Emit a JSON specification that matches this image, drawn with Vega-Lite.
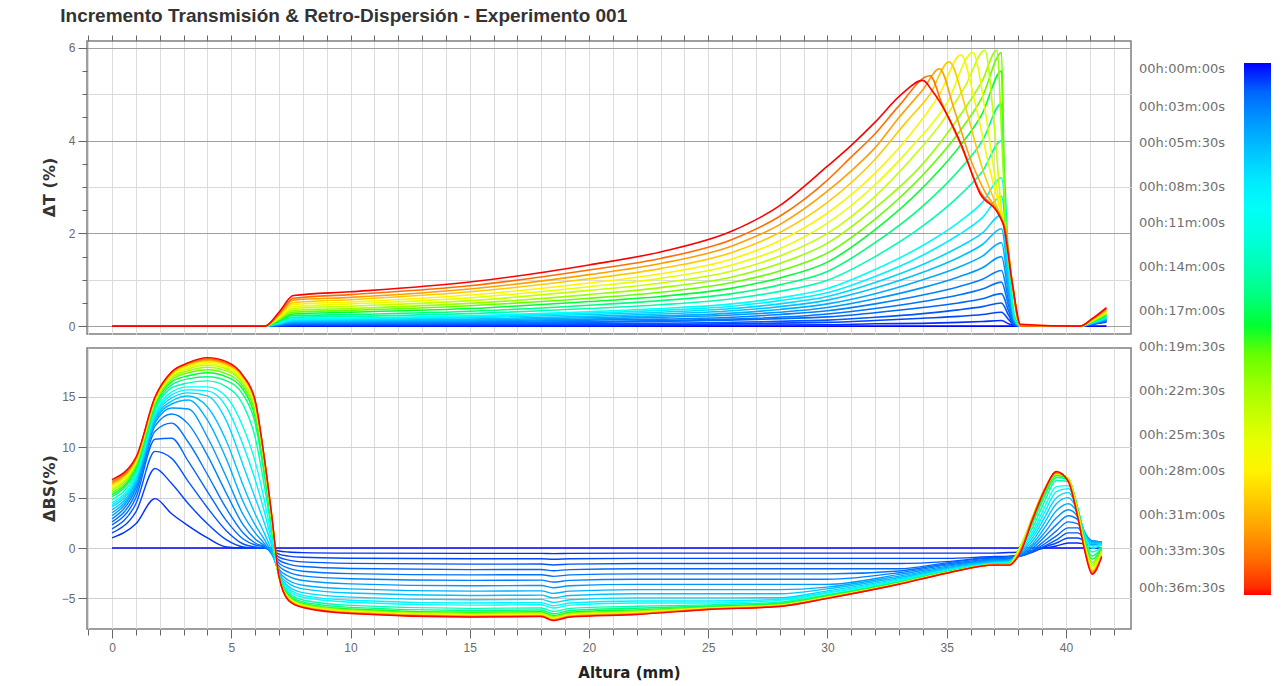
{
"$schema": "https://vega.github.io/schema/vega-lite/v6.json",
"background": "white",
"padding": {"left": 40, "top": 6, "right": 5, "bottom": 2},
"title": {"text": "Incremento Transmisión & Retro-Dispersión - Experimento 001", "anchor": "start", "frame": "bounds", "font": "Liberation Sans", "fontSize": 19, "fontWeight": "bold", "color": "#333333", "offset": 8, "dx": 20},
"config": {"view": {"stroke": "#7f7f7f", "strokeWidth": 1.5}, "axis": {"labelFont": "Liberation Sans", "labelColor": "#6a6a6a", "tickColor": "#666666", "domain": false}},
"spacing": 12,
"resolve": {"scale": {"color": "shared"}},
"datasets": {
"T": [
{"t":0,"x":0,"y":0},{"t":0,"x":41.7,"y":0},
{"t":0.5,"x":0,"y":0},{"t":0.5,"x":6.4,"y":0},{"t":0.5,"x":7.6,"y":0.01},{"t":0.5,"x":20,"y":0.01},{"t":0.5,"x":30,"y":0.03},{"t":0.5,"x":32,"y":0.05},{"t":0.5,"x":34,"y":0.06},{"t":0.5,"x":35.5,"y":0.08},{"t":0.5,"x":36.5,"y":0.1},{"t":0.5,"x":37.3,"y":0.12},{"t":0.5,"x":37.6,"y":0.05},{"t":0.5,"x":37.85,"y":0.01},{"t":0.5,"x":38.1,"y":0},{"t":0.5,"x":40.6,"y":0},{"t":0.5,"x":41.1,"y":0.04},{"t":0.5,"x":41.7,"y":0.09},
{"t":1,"x":0,"y":0},{"t":1,"x":6.4,"y":0},{"t":1,"x":7.6,"y":0.02},{"t":1,"x":20,"y":0.03},{"t":1,"x":30,"y":0.08},{"t":1,"x":32,"y":0.12},{"t":1,"x":34,"y":0.17},{"t":1,"x":35.5,"y":0.21},{"t":1,"x":36.5,"y":0.25},{"t":1,"x":37.3,"y":0.3},{"t":1,"x":37.6,"y":0.14},{"t":1,"x":37.85,"y":0.02},{"t":1,"x":38.1,"y":0},{"t":1,"x":40.6,"y":0},{"t":1,"x":41.1,"y":0.04},{"t":1,"x":41.7,"y":0.1},
{"t":1.5,"x":0,"y":0},{"t":1.5,"x":6.4,"y":0},{"t":1.5,"x":7.6,"y":0.03},{"t":1.5,"x":20,"y":0.05},{"t":1.5,"x":30,"y":0.13},{"t":1.5,"x":32,"y":0.19},{"t":1.5,"x":34,"y":0.27},{"t":1.5,"x":35.5,"y":0.35},{"t":1.5,"x":36.5,"y":0.42},{"t":1.5,"x":37.3,"y":0.5},{"t":1.5,"x":37.6,"y":0.23},{"t":1.5,"x":37.85,"y":0.03},{"t":1.5,"x":38.1,"y":0},{"t":1.5,"x":40.6,"y":0},{"t":1.5,"x":41.1,"y":0.04},{"t":1.5,"x":41.7,"y":0.11},
{"t":2,"x":0,"y":0},{"t":2,"x":6.4,"y":0},{"t":2,"x":7.6,"y":0.04},{"t":2,"x":20,"y":0.08},{"t":2,"x":30,"y":0.2},{"t":2,"x":32,"y":0.29},{"t":2,"x":34,"y":0.4},{"t":2,"x":35.5,"y":0.5},{"t":2,"x":36.5,"y":0.59},{"t":2,"x":37.3,"y":0.7},{"t":2,"x":37.6,"y":0.32},{"t":2,"x":37.85,"y":0.04},{"t":2,"x":38.1,"y":0},{"t":2,"x":40.6,"y":0},{"t":2,"x":41.1,"y":0.05},{"t":2,"x":41.7,"y":0.12},
{"t":2.5,"x":0,"y":0},{"t":2.5,"x":6.4,"y":0},{"t":2.5,"x":7,"y":0.02},{"t":2.5,"x":7.6,"y":0.05},{"t":2.5,"x":15,"y":0.07},{"t":2.5,"x":20,"y":0.1},{"t":2.5,"x":26,"y":0.15},{"t":2.5,"x":30,"y":0.26},{"t":2.5,"x":32,"y":0.38},{"t":2.5,"x":34,"y":0.53},{"t":2.5,"x":35.5,"y":0.67},{"t":2.5,"x":36.5,"y":0.8},{"t":2.5,"x":37.3,"y":0.95},{"t":2.5,"x":37.6,"y":0.43},{"t":2.5,"x":37.85,"y":0.06},{"t":2.5,"x":38.1,"y":0},{"t":2.5,"x":40.6,"y":0},{"t":2.5,"x":41.1,"y":0.05},{"t":2.5,"x":41.7,"y":0.12},
{"t":3,"x":0,"y":0},{"t":3,"x":6.4,"y":0},{"t":3,"x":7,"y":0.03},{"t":3,"x":7.6,"y":0.06},{"t":3,"x":10,"y":0.07},{"t":3,"x":15,"y":0.09},{"t":3,"x":20,"y":0.13},{"t":3,"x":23,"y":0.15},{"t":3,"x":26,"y":0.19},{"t":3,"x":28,"y":0.25},{"t":3,"x":30,"y":0.33},{"t":3,"x":32,"y":0.48},{"t":3,"x":34,"y":0.67},{"t":3,"x":35.5,"y":0.85},{"t":3,"x":36.5,"y":1.01},{"t":3,"x":37.3,"y":1.2},{"t":3,"x":37.6,"y":0.54},{"t":3,"x":37.85,"y":0.07},{"t":3,"x":38.1,"y":0},{"t":3,"x":40.6,"y":0},{"t":3,"x":41.1,"y":0.05},{"t":3,"x":41.7,"y":0.13},
{"t":4,"x":0,"y":0},{"t":4,"x":6.4,"y":0},{"t":4,"x":7,"y":0.04},{"t":4,"x":7.6,"y":0.08},{"t":4,"x":10,"y":0.09},{"t":4,"x":15,"y":0.11},{"t":4,"x":20,"y":0.15},{"t":4,"x":23,"y":0.19},{"t":4,"x":26,"y":0.24},{"t":4,"x":28,"y":0.3},{"t":4,"x":30,"y":0.4},{"t":4,"x":32,"y":0.59},{"t":4,"x":34,"y":0.83},{"t":4,"x":35.5,"y":1.06},{"t":4,"x":36.5,"y":1.26},{"t":4,"x":37.3,"y":1.5},{"t":4,"x":37.6,"y":0.68},{"t":4,"x":37.85,"y":0.09},{"t":4,"x":38.1,"y":0},{"t":4,"x":40.6,"y":0},{"t":4,"x":41.1,"y":0.06},{"t":4,"x":41.7,"y":0.14},
{"t":5,"x":0,"y":0},{"t":5,"x":6.4,"y":0},{"t":5,"x":7,"y":0.04},{"t":5,"x":7.6,"y":0.09},{"t":5,"x":10,"y":0.1},{"t":5,"x":15,"y":0.13},{"t":5,"x":20,"y":0.18},{"t":5,"x":23,"y":0.22},{"t":5,"x":26,"y":0.28},{"t":5,"x":28,"y":0.36},{"t":5,"x":30,"y":0.48},{"t":5,"x":32,"y":0.7},{"t":5,"x":34,"y":1.0},{"t":5,"x":35.5,"y":1.27},{"t":5,"x":36.5,"y":1.51},{"t":5,"x":37.3,"y":1.8},{"t":5,"x":37.6,"y":0.81},{"t":5,"x":37.85,"y":0.11},{"t":5,"x":38.1,"y":0},{"t":5,"x":40.6,"y":0},{"t":5,"x":41.1,"y":0.06},{"t":5,"x":41.7,"y":0.15},
{"t":6,"x":0,"y":0},{"t":6,"x":6.4,"y":0},{"t":6,"x":7,"y":0.05},{"t":6,"x":7.6,"y":0.11},{"t":6,"x":10,"y":0.12},{"t":6,"x":15,"y":0.15},{"t":6,"x":20,"y":0.21},{"t":6,"x":23,"y":0.26},{"t":6,"x":26,"y":0.33},{"t":6,"x":28,"y":0.42},{"t":6,"x":30,"y":0.56},{"t":6,"x":32,"y":0.82},{"t":6,"x":34,"y":1.16},{"t":6,"x":35.5,"y":1.48},{"t":6,"x":36.5,"y":1.76},{"t":6,"x":37.3,"y":2.1},{"t":6,"x":37.6,"y":0.95},{"t":6,"x":37.85,"y":0.13},{"t":6,"x":38.1,"y":0},{"t":6,"x":40.6,"y":0},{"t":6,"x":41.1,"y":0.06},{"t":6,"x":41.7,"y":0.16},
{"t":7,"x":0,"y":0},{"t":7,"x":6.4,"y":0},{"t":7,"x":7,"y":0.06},{"t":7,"x":7.6,"y":0.12},{"t":7,"x":10,"y":0.14},{"t":7,"x":15,"y":0.18},{"t":7,"x":20,"y":0.25},{"t":7,"x":23,"y":0.3},{"t":7,"x":26,"y":0.38},{"t":7,"x":28,"y":0.48},{"t":7,"x":30,"y":0.64},{"t":7,"x":32,"y":0.94},{"t":7,"x":34,"y":1.33},{"t":7,"x":35.5,"y":1.7},{"t":7,"x":36.5,"y":2.01},{"t":7,"x":37.3,"y":2.4},{"t":7,"x":37.6,"y":1.08},{"t":7,"x":37.85,"y":0.14},{"t":7,"x":38.1,"y":0},{"t":7,"x":40.6,"y":0},{"t":7,"x":41.1,"y":0.07},{"t":7,"x":41.7,"y":0.17},
{"t":8.5,"x":0,"y":0},{"t":8.5,"x":6.4,"y":0},{"t":8.5,"x":7,"y":0.06},{"t":8.5,"x":7.6,"y":0.14},{"t":8.5,"x":10,"y":0.16},{"t":8.5,"x":15,"y":0.2},{"t":8.5,"x":20,"y":0.28},{"t":8.5,"x":23,"y":0.34},{"t":8.5,"x":26,"y":0.43},{"t":8.5,"x":28,"y":0.55},{"t":8.5,"x":30,"y":0.72},{"t":8.5,"x":32,"y":1.07},{"t":8.5,"x":34,"y":1.53},{"t":8.5,"x":35.5,"y":1.97},{"t":8.5,"x":36.5,"y":2.34},{"t":8.5,"x":37.3,"y":2.8},{"t":8.5,"x":37.6,"y":1.26},{"t":8.5,"x":37.85,"y":0.17},{"t":8.5,"x":38.1,"y":0},{"t":8.5,"x":40.6,"y":0},{"t":8.5,"x":41.1,"y":0.07},{"t":8.5,"x":41.7,"y":0.18},
{"t":10,"x":0,"y":0},{"t":10,"x":6.4,"y":0},{"t":10,"x":7,"y":0.07},{"t":10,"x":7.6,"y":0.16},{"t":10,"x":10,"y":0.17},{"t":10,"x":15,"y":0.22},{"t":10,"x":20,"y":0.31},{"t":10,"x":23,"y":0.38},{"t":10,"x":26,"y":0.48},{"t":10,"x":28,"y":0.61},{"t":10,"x":30,"y":0.81},{"t":10,"x":32,"y":1.22},{"t":10,"x":34,"y":1.74},{"t":10,"x":35.5,"y":2.24},{"t":10,"x":36.5,"y":2.67},{"t":10,"x":37.3,"y":3.2},{"t":10,"x":37.6,"y":1.4},{"t":10,"x":37.85,"y":0.19},{"t":10,"x":38.1,"y":0},{"t":10,"x":40.6,"y":0},{"t":10,"x":41.1,"y":0.08},{"t":10,"x":41.7,"y":0.19},
{"t":14,"x":0,"y":0},{"t":14,"x":6.4,"y":0},{"t":14,"x":7,"y":0.09},{"t":14,"x":7.6,"y":0.19},{"t":14,"x":10,"y":0.21},{"t":14,"x":15,"y":0.27},{"t":14,"x":20,"y":0.38},{"t":14,"x":23,"y":0.46},{"t":14,"x":26,"y":0.59},{"t":14,"x":28,"y":0.75},{"t":14,"x":30,"y":0.99},{"t":14,"x":32,"y":1.5},{"t":14,"x":34,"y":2.16},{"t":14,"x":35.5,"y":2.8},{"t":14,"x":36.5,"y":3.34},{"t":14,"x":37.3,"y":4.0},{"t":14,"x":37.6,"y":1.5},{"t":14,"x":37.85,"y":0.2},{"t":14,"x":38.1,"y":0},{"t":14,"x":40.6,"y":0},{"t":14,"x":41.1,"y":0.08},{"t":14,"x":41.7,"y":0.2},
{"t":16,"x":0,"y":0},{"t":16,"x":6.4,"y":0},{"t":16,"x":7,"y":0.1},{"t":16,"x":7.6,"y":0.23},{"t":16,"x":10,"y":0.25},{"t":16,"x":15,"y":0.32},{"t":16,"x":20,"y":0.45},{"t":16,"x":23,"y":0.55},{"t":16,"x":26,"y":0.7},{"t":16,"x":28,"y":0.89},{"t":16,"x":30,"y":1.18},{"t":16,"x":32,"y":1.8},{"t":16,"x":34,"y":2.59},{"t":16,"x":35.5,"y":3.35},{"t":16,"x":36.5,"y":4.0},{"t":16,"x":37.3,"y":4.8},{"t":16,"x":37.45,"y":2.3},{"t":16,"x":37.75,"y":0.93},{"t":16,"x":38.1,"y":0},{"t":16,"x":40.6,"y":0},{"t":16,"x":41.1,"y":0.09},{"t":16,"x":41.7,"y":0.22},
{"t":18,"x":0,"y":0},{"t":18,"x":6.4,"y":0},{"t":18,"x":7,"y":0.12},{"t":18,"x":7.6,"y":0.26},{"t":18,"x":10,"y":0.3},{"t":18,"x":15,"y":0.38},{"t":18,"x":20,"y":0.53},{"t":18,"x":23,"y":0.64},{"t":18,"x":26,"y":0.82},{"t":18,"x":28,"y":1.04},{"t":18,"x":30,"y":1.38},{"t":18,"x":32,"y":2.08},{"t":18,"x":34,"y":2.99},{"t":18,"x":35.5,"y":3.85},{"t":18,"x":36.5,"y":4.59},{"t":18,"x":37.3,"y":5.5},{"t":18,"x":37.45,"y":2.3},{"t":18,"x":37.75,"y":0.93},{"t":18,"x":38.1,"y":0},{"t":18,"x":40.6,"y":0},{"t":18,"x":41.1,"y":0.1},{"t":18,"x":41.7,"y":0.24},
{"t":20,"x":0,"y":0},{"t":20,"x":6.4,"y":0},{"t":20,"x":7,"y":0.14},{"t":20,"x":7.6,"y":0.3},{"t":20,"x":10,"y":0.34},{"t":20,"x":15,"y":0.44},{"t":20,"x":20,"y":0.6},{"t":20,"x":23,"y":0.73},{"t":20,"x":26,"y":0.94},{"t":20,"x":28,"y":1.19},{"t":20,"x":30,"y":1.58},{"t":20,"x":32,"y":2.31},{"t":20,"x":34,"y":3.26},{"t":20,"x":35.5,"y":4.17},{"t":20,"x":36.5,"y":4.95},{"t":20,"x":37.3,"y":5.9},{"t":20,"x":37.45,"y":2.3},{"t":20,"x":37.75,"y":0.93},{"t":20,"x":38.1,"y":0},{"t":20,"x":40.6,"y":0},{"t":20,"x":41.1,"y":0.1},{"t":20,"x":41.7,"y":0.26},
{"t":22,"x":0,"y":0},{"t":22,"x":6.4,"y":0},{"t":22,"x":7,"y":0.16},{"t":22,"x":7.6,"y":0.34},{"t":22,"x":10,"y":0.38},{"t":22,"x":15,"y":0.49},{"t":22,"x":20,"y":0.68},{"t":22,"x":23,"y":0.83},{"t":22,"x":26,"y":1.06},{"t":22,"x":28,"y":1.35},{"t":22,"x":30,"y":1.79},{"t":22,"x":32,"y":2.55},{"t":22,"x":34,"y":3.5},{"t":22,"x":35.5,"y":4.5},{"t":22,"x":36.5,"y":5.3},{"t":22,"x":37.1,"y":5.95},{"t":22,"x":37.35,"y":3.6},{"t":22,"x":37.5,"y":2.0},{"t":22,"x":37.75,"y":0.93},{"t":22,"x":38.1,"y":0},{"t":22,"x":40.6,"y":0},{"t":22,"x":41.1,"y":0.11},{"t":22,"x":41.7,"y":0.27},
{"t":24,"x":0,"y":0},{"t":24,"x":6.4,"y":0},{"t":24,"x":7,"y":0.17},{"t":24,"x":7.6,"y":0.38},{"t":24,"x":10,"y":0.43},{"t":24,"x":15,"y":0.55},{"t":24,"x":20,"y":0.77},{"t":24,"x":23,"y":0.93},{"t":24,"x":26,"y":1.19},{"t":24,"x":28,"y":1.51},{"t":24,"x":30,"y":2.0},{"t":24,"x":32,"y":2.8},{"t":24,"x":33.5,"y":3.6},{"t":24,"x":34.8,"y":4.4},{"t":24,"x":35.8,"y":5.2},{"t":24,"x":36.6,"y":5.95},{"t":24,"x":37,"y":4.3},{"t":24,"x":37.3,"y":2.5},{"t":24,"x":37.45,"y":2.1},{"t":24,"x":37.75,"y":0.93},{"t":24,"x":38.1,"y":0},{"t":24,"x":40.6,"y":0},{"t":24,"x":41.1,"y":0.12},{"t":24,"x":41.7,"y":0.29},
{"t":26,"x":0,"y":0},{"t":26,"x":6.4,"y":0},{"t":26,"x":7,"y":0.19},{"t":26,"x":7.6,"y":0.42},{"t":26,"x":10,"y":0.48},{"t":26,"x":15,"y":0.61},{"t":26,"x":20,"y":0.85},{"t":26,"x":23,"y":1.03},{"t":26,"x":26,"y":1.32},{"t":26,"x":28,"y":1.67},{"t":26,"x":30,"y":2.22},{"t":26,"x":32,"y":3.05},{"t":26,"x":33.5,"y":3.85},{"t":26,"x":35,"y":4.8},{"t":26,"x":36.1,"y":5.9},{"t":26,"x":36.6,"y":4.7},{"t":26,"x":37,"y":3.3},{"t":26,"x":37.3,"y":2.4},{"t":26,"x":37.45,"y":2.1},{"t":26,"x":37.75,"y":0.93},{"t":26,"x":38.1,"y":0},{"t":26,"x":40.6,"y":0},{"t":26,"x":41.1,"y":0.12},{"t":26,"x":41.7,"y":0.31},
{"t":28,"x":0,"y":0},{"t":28,"x":6.4,"y":0},{"t":28,"x":7,"y":0.21},{"t":28,"x":7.6,"y":0.47},{"t":28,"x":10,"y":0.52},{"t":28,"x":15,"y":0.67},{"t":28,"x":20,"y":0.93},{"t":28,"x":23,"y":1.13},{"t":28,"x":26,"y":1.45},{"t":28,"x":28,"y":1.84},{"t":28,"x":30,"y":2.44},{"t":28,"x":32,"y":3.3},{"t":28,"x":33.5,"y":4.15},{"t":28,"x":34.7,"y":5.0},{"t":28,"x":35.6,"y":5.85},{"t":28,"x":36.2,"y":4.8},{"t":28,"x":36.8,"y":3.4},{"t":28,"x":37.3,"y":2.4},{"t":28,"x":37.45,"y":2.1},{"t":28,"x":37.75,"y":0.93},{"t":28,"x":38.1,"y":0},{"t":28,"x":40.6,"y":0},{"t":28,"x":41.1,"y":0.13},{"t":28,"x":41.7,"y":0.33},
{"t":30,"x":0,"y":0},{"t":30,"x":6.4,"y":0},{"t":30,"x":7,"y":0.23},{"t":30,"x":7.6,"y":0.51},{"t":30,"x":10,"y":0.57},{"t":30,"x":15,"y":0.74},{"t":30,"x":20,"y":1.02},{"t":30,"x":23,"y":1.24},{"t":30,"x":26,"y":1.59},{"t":30,"x":28,"y":2.02},{"t":30,"x":30,"y":2.67},{"t":30,"x":32,"y":3.6},{"t":30,"x":33.3,"y":4.4},{"t":30,"x":34.3,"y":5.0},{"t":30,"x":35.1,"y":5.7},{"t":30,"x":35.8,"y":4.7},{"t":30,"x":36.5,"y":3.4},{"t":30,"x":37.2,"y":2.45},{"t":30,"x":37.45,"y":2.1},{"t":30,"x":37.75,"y":0.93},{"t":30,"x":38.1,"y":0},{"t":30,"x":40.6,"y":0},{"t":30,"x":41.1,"y":0.14},{"t":30,"x":41.7,"y":0.34},
{"t":32,"x":0,"y":0},{"t":32,"x":6.4,"y":0},{"t":32,"x":7,"y":0.25},{"t":32,"x":7.6,"y":0.56},{"t":32,"x":10,"y":0.62},{"t":32,"x":15,"y":0.8},{"t":32,"x":20,"y":1.11},{"t":32,"x":23,"y":1.35},{"t":32,"x":26,"y":1.73},{"t":32,"x":28,"y":2.19},{"t":32,"x":30,"y":2.91},{"t":32,"x":31,"y":3.35},{"t":32,"x":32,"y":3.85},{"t":32,"x":33,"y":4.5},{"t":32,"x":34,"y":5.1},{"t":32,"x":34.7,"y":5.55},{"t":32,"x":35.3,"y":4.7},{"t":32,"x":36,"y":3.6},{"t":32,"x":36.6,"y":2.9},{"t":32,"x":37.2,"y":2.42},{"t":32,"x":37.45,"y":2.1},{"t":32,"x":37.75,"y":0.93},{"t":32,"x":38.1,"y":0},{"t":32,"x":40.6,"y":0},{"t":32,"x":41.1,"y":0.14},{"t":32,"x":41.7,"y":0.36},
{"t":34,"x":0,"y":0},{"t":34,"x":6.4,"y":0},{"t":34,"x":7,"y":0.27},{"t":34,"x":7.6,"y":0.6},{"t":34,"x":10,"y":0.68},{"t":34,"x":15,"y":0.87},{"t":34,"x":20,"y":1.21},{"t":34,"x":23,"y":1.46},{"t":34,"x":26,"y":1.87},{"t":34,"x":28,"y":2.37},{"t":34,"x":30,"y":3.15},{"t":34,"x":31,"y":3.65},{"t":34,"x":32,"y":4.15},{"t":34,"x":33,"y":4.75},{"t":34,"x":34.3,"y":5.4},{"t":34,"x":34.8,"y":4.8},{"t":34,"x":35.6,"y":3.9},{"t":34,"x":36.4,"y":2.9},{"t":34,"x":37.2,"y":2.4},{"t":34,"x":37.45,"y":2.1},{"t":34,"x":37.75,"y":0.93},{"t":34,"x":38.1,"y":0},{"t":34,"x":40.6,"y":0},{"t":34,"x":41.1,"y":0.15},{"t":34,"x":41.7,"y":0.38},
{"t":36.5,"x":0,"y":0},{"t":36.5,"x":6.4,"y":0},{"t":36.5,"x":7,"y":0.3},{"t":36.5,"x":7.6,"y":0.66},{"t":36.5,"x":10,"y":0.74},{"t":36.5,"x":15,"y":0.95},{"t":36.5,"x":20,"y":1.32},{"t":36.5,"x":23,"y":1.6},{"t":36.5,"x":26,"y":2.05},{"t":36.5,"x":28,"y":2.6},{"t":36.5,"x":30,"y":3.45},{"t":36.5,"x":31,"y":3.9},{"t":36.5,"x":32,"y":4.4},{"t":36.5,"x":33.1,"y":5.0},{"t":36.5,"x":34,"y":5.3},{"t":36.5,"x":34.4,"y":5.07},{"t":36.5,"x":35.6,"y":3.93},{"t":36.5,"x":36.4,"y":2.86},{"t":36.5,"x":37.2,"y":2.39},{"t":36.5,"x":37.4,"y":2.14},{"t":36.5,"x":37.75,"y":0.93},{"t":36.5,"x":38.1,"y":0.04},{"t":36.5,"x":40.6,"y":0},{"t":36.5,"x":41.1,"y":0.16},{"t":36.5,"x":41.7,"y":0.4}
],
"B": [
{"t":0,"x":0,"y":0},{"t":0,"x":41.5,"y":0},
{"t":0.5,"x":0,"y":1.0},{"t":0.5,"x":1,"y":2.4},{"t":0.5,"x":1.8,"y":4.9},{"t":0.5,"x":2.5,"y":3.4},{"t":0.5,"x":3.2,"y":2.2},{"t":0.5,"x":4,"y":1.0},{"t":0.5,"x":4.8,"y":0.1},{"t":0.5,"x":5.5,"y":0},{"t":0.5,"x":6,"y":0},{"t":0.5,"x":6.4,"y":0},{"t":0.5,"x":6.7,"y":-0.1},{"t":0.5,"x":7,"y":-0.3},{"t":0.5,"x":7.4,"y":-0.4},{"t":0.5,"x":8,"y":-0.46},{"t":0.5,"x":10,"y":-0.51},{"t":0.5,"x":15,"y":-0.53},{"t":0.5,"x":18,"y":-0.53},{"t":0.5,"x":18.5,"y":-0.56},{"t":0.5,"x":19.2,"y":-0.53},{"t":0.5,"x":22,"y":-0.51},{"t":0.5,"x":25,"y":-0.51},{"t":0.5,"x":28,"y":-0.51},{"t":0.5,"x":30,"y":-0.51},{"t":0.5,"x":33,"y":-0.51},{"t":0.5,"x":35,"y":-0.51},{"t":0.5,"x":37,"y":-0.51},{"t":0.5,"x":37.6,"y":-0.45},{"t":0.5,"x":38.1,"y":-0.4},{"t":0.5,"x":38.6,"y":-0.25},{"t":0.5,"x":39.1,"y":0},{"t":0.5,"x":39.6,"y":0.2},{"t":0.5,"x":40.1,"y":0.5},{"t":0.5,"x":40.5,"y":0.5},{"t":0.5,"x":40.8,"y":0.4},{"t":0.5,"x":41.1,"y":0.3},{"t":0.5,"x":41.5,"y":0.3},
{"t":1,"x":0,"y":1.5},{"t":1,"x":1,"y":3.6},{"t":1,"x":1.8,"y":7.9},{"t":1,"x":2.5,"y":6.4},{"t":1,"x":3.2,"y":4.4},{"t":1,"x":4,"y":2.4},{"t":1,"x":4.8,"y":0.8},{"t":1,"x":5.5,"y":0.1},{"t":1,"x":6,"y":0},{"t":1,"x":6.4,"y":0},{"t":1,"x":6.7,"y":-0.2},{"t":1,"x":7,"y":-0.6},{"t":1,"x":7.4,"y":-0.8},{"t":1,"x":8,"y":-0.92},{"t":1,"x":10,"y":-1.01},{"t":1,"x":15,"y":-1.07},{"t":1,"x":18,"y":-1.06},{"t":1,"x":18.5,"y":-1.12},{"t":1,"x":19.2,"y":-1.07},{"t":1,"x":22,"y":-1.03},{"t":1,"x":25,"y":-1.03},{"t":1,"x":28,"y":-1.03},{"t":1,"x":30,"y":-1.03},{"t":1,"x":33,"y":-1.03},{"t":1,"x":35,"y":-1.03},{"t":1,"x":37,"y":-0.84},{"t":1,"x":37.6,"y":-0.8},{"t":1,"x":38.1,"y":-0.7},{"t":1,"x":38.6,"y":-0.4},{"t":1,"x":39.1,"y":0.1},{"t":1,"x":39.6,"y":0.5},{"t":1,"x":40.1,"y":1.0},{"t":1,"x":40.5,"y":1.0},{"t":1,"x":40.8,"y":0.7},{"t":1,"x":41.1,"y":0.4},{"t":1,"x":41.5,"y":0.4},
{"t":1.5,"x":0,"y":1.9},{"t":1.5,"x":1,"y":4.4},{"t":1.5,"x":1.8,"y":9.6},{"t":1.5,"x":2.5,"y":8.9},{"t":1.5,"x":3.2,"y":6.6},{"t":1.5,"x":4,"y":4.0},{"t":1.5,"x":4.8,"y":1.7},{"t":1.5,"x":5.5,"y":0.4},{"t":1.5,"x":6,"y":0.1},{"t":1.5,"x":6.4,"y":0},{"t":1.5,"x":6.7,"y":-0.3},{"t":1.5,"x":7,"y":-0.9},{"t":1.5,"x":7.4,"y":-1.2},{"t":1.5,"x":8,"y":-1.38},{"t":1.5,"x":10,"y":-1.52},{"t":1.5,"x":15,"y":-1.6},{"t":1.5,"x":18,"y":-1.59},{"t":1.5,"x":18.5,"y":-1.68},{"t":1.5,"x":19.2,"y":-1.6},{"t":1.5,"x":22,"y":-1.54},{"t":1.5,"x":25,"y":-1.54},{"t":1.5,"x":28,"y":-1.54},{"t":1.5,"x":30,"y":-1.54},{"t":1.5,"x":33,"y":-1.54},{"t":1.5,"x":35,"y":-1.35},{"t":1.5,"x":37,"y":-0.92},{"t":1.5,"x":37.6,"y":-0.9},{"t":1.5,"x":38.1,"y":-0.8},{"t":1.5,"x":38.6,"y":-0.4},{"t":1.5,"x":39.1,"y":0.2},{"t":1.5,"x":39.6,"y":0.8},{"t":1.5,"x":40.1,"y":1.5},{"t":1.5,"x":40.5,"y":1.5},{"t":1.5,"x":40.8,"y":0.9},{"t":1.5,"x":41.1,"y":0.5},{"t":1.5,"x":41.5,"y":0.5},
{"t":2,"x":0,"y":2.3},{"t":2,"x":1,"y":5.0},{"t":2,"x":1.8,"y":10.8},{"t":2,"x":2.5,"y":10.9},{"t":2,"x":3.2,"y":8.6},{"t":2,"x":4,"y":5.6},{"t":2,"x":4.8,"y":2.7},{"t":2,"x":5.5,"y":0.9},{"t":2,"x":6,"y":0.3},{"t":2,"x":6.4,"y":0.1},{"t":2,"x":6.7,"y":-0.4},{"t":2,"x":7,"y":-1.2},{"t":2,"x":7.4,"y":-1.6},{"t":2,"x":8,"y":-1.84},{"t":2,"x":10,"y":-2.03},{"t":2,"x":15,"y":-2.14},{"t":2,"x":18,"y":-2.13},{"t":2,"x":18.5,"y":-2.25},{"t":2,"x":19.2,"y":-2.14},{"t":2,"x":22,"y":-2.06},{"t":2,"x":25,"y":-2.06},{"t":2,"x":28,"y":-2.06},{"t":2,"x":30,"y":-2.06},{"t":2,"x":33,"y":-2.06},{"t":2,"x":35,"y":-1.47},{"t":2,"x":37,"y":-1.0},{"t":2,"x":37.6,"y":-1.0},{"t":2,"x":38.1,"y":-0.8},{"t":2,"x":38.6,"y":-0.3},{"t":2,"x":39.1,"y":0.4},{"t":2,"x":39.6,"y":1.2},{"t":2,"x":40.1,"y":2.0},{"t":2,"x":40.5,"y":2.0},{"t":2,"x":40.8,"y":1.1},{"t":2,"x":41.1,"y":0.6},{"t":2,"x":41.5,"y":0.5},
{"t":2.5,"x":0,"y":2.6},{"t":2.5,"x":1,"y":5.5},{"t":2.5,"x":1.8,"y":11.6},{"t":2.5,"x":2.5,"y":12.4},{"t":2.5,"x":3.2,"y":10.5},{"t":2.5,"x":4,"y":7.3},{"t":2.5,"x":4.8,"y":3.9},{"t":2.5,"x":5.5,"y":1.5},{"t":2.5,"x":6,"y":0.5},{"t":2.5,"x":6.4,"y":0.1},{"t":2.5,"x":6.7,"y":-0.5},{"t":2.5,"x":7,"y":-1.5},{"t":2.5,"x":7.4,"y":-2.0},{"t":2.5,"x":8,"y":-2.3},{"t":2.5,"x":10,"y":-2.54},{"t":2.5,"x":15,"y":-2.67},{"t":2.5,"x":18,"y":-2.65},{"t":2.5,"x":18.5,"y":-2.81},{"t":2.5,"x":19.2,"y":-2.67},{"t":2.5,"x":22,"y":-2.57},{"t":2.5,"x":25,"y":-2.57},{"t":2.5,"x":28,"y":-2.57},{"t":2.5,"x":30,"y":-2.57},{"t":2.5,"x":33,"y":-2.28},{"t":2.5,"x":35,"y":-1.59},{"t":2.5,"x":37,"y":-1.08},{"t":2.5,"x":37.6,"y":-1.05},{"t":2.5,"x":38.1,"y":-0.7},{"t":2.5,"x":38.6,"y":-0.2},{"t":2.5,"x":39.1,"y":0.7},{"t":2.5,"x":39.6,"y":1.7},{"t":2.5,"x":40.1,"y":2.6},{"t":2.5,"x":40.5,"y":2.4},{"t":2.5,"x":40.8,"y":1.3},{"t":2.5,"x":41.1,"y":0.7},{"t":2.5,"x":41.5,"y":0.6},
{"t":3,"x":0,"y":2.9},{"t":3,"x":1,"y":5.9},{"t":3,"x":1.8,"y":12.1},{"t":3,"x":2.5,"y":13.3},{"t":3,"x":3.2,"y":12.3},{"t":3,"x":4,"y":9.2},{"t":3,"x":4.8,"y":5.4},{"t":3,"x":5.5,"y":2.3},{"t":3,"x":6,"y":0.9},{"t":3,"x":6.4,"y":0.2},{"t":3,"x":6.7,"y":-0.6},{"t":3,"x":7,"y":-1.8},{"t":3,"x":7.4,"y":-2.4},{"t":3,"x":8,"y":-2.77},{"t":3,"x":10,"y":-3.05},{"t":3,"x":15,"y":-3.21},{"t":3,"x":18,"y":-3.19},{"t":3,"x":18.5,"y":-3.38},{"t":3,"x":19.2,"y":-3.21},{"t":3,"x":22,"y":-3.1},{"t":3,"x":25,"y":-3.1},{"t":3,"x":28,"y":-3.1},{"t":3,"x":30,"y":-3.1},{"t":3,"x":33,"y":-2.45},{"t":3,"x":35,"y":-1.7},{"t":3,"x":37,"y":-1.16},{"t":3,"x":37.6,"y":-1.1},{"t":3,"x":38.1,"y":-0.6},{"t":3,"x":38.6,"y":0},{"t":3,"x":39.1,"y":1.1},{"t":3,"x":39.6,"y":2.3},{"t":3,"x":40.1,"y":3.2},{"t":3,"x":40.5,"y":2.8},{"t":3,"x":40.8,"y":1.4},{"t":3,"x":41.1,"y":0.7},{"t":3,"x":41.5,"y":0.6},
{"t":4,"x":0,"y":3.2},{"t":4,"x":1,"y":6.2},{"t":4,"x":1.8,"y":12.4},{"t":4,"x":2.5,"y":13.9},{"t":4,"x":3.2,"y":13.8},{"t":4,"x":4,"y":11.0},{"t":4,"x":4.8,"y":7.0},{"t":4,"x":5.5,"y":3.3},{"t":4,"x":6,"y":1.5},{"t":4,"x":6.4,"y":0.4},{"t":4,"x":6.7,"y":-0.6},{"t":4,"x":7,"y":-2.1},{"t":4,"x":7.4,"y":-2.8},{"t":4,"x":8,"y":-3.23},{"t":4,"x":10,"y":-3.56},{"t":4,"x":15,"y":-3.75},{"t":4,"x":18,"y":-3.72},{"t":4,"x":18.5,"y":-3.94},{"t":4,"x":19.2,"y":-3.75},{"t":4,"x":22,"y":-3.61},{"t":4,"x":25,"y":-3.61},{"t":4,"x":28,"y":-3.61},{"t":4,"x":30,"y":-3.61},{"t":4,"x":33,"y":-2.62},{"t":4,"x":35,"y":-1.82},{"t":4,"x":37,"y":-1.24},{"t":4,"x":37.6,"y":-1.2},{"t":4,"x":38.1,"y":-0.55},{"t":4,"x":38.6,"y":0.2},{"t":4,"x":39.1,"y":1.5},{"t":4,"x":39.6,"y":3.0},{"t":4,"x":40.1,"y":3.8},{"t":4,"x":40.5,"y":3.1},{"t":4,"x":40.8,"y":1.5},{"t":4,"x":41.1,"y":0.7},{"t":4,"x":41.5,"y":0.6},
{"t":5,"x":0,"y":3.5},{"t":5,"x":1,"y":6.4},{"t":5,"x":1.8,"y":12.6},{"t":5,"x":2.5,"y":14.3},{"t":5,"x":3.2,"y":14.7},{"t":5,"x":4,"y":12.7},{"t":5,"x":4.8,"y":8.8},{"t":5,"x":5.5,"y":4.6},{"t":5,"x":6,"y":2.3},{"t":5,"x":6.4,"y":0.8},{"t":5,"x":6.7,"y":-0.5},{"t":5,"x":7,"y":-2.3},{"t":5,"x":7.4,"y":-3.2},{"t":5,"x":8,"y":-3.69},{"t":5,"x":10,"y":-4.06},{"t":5,"x":15,"y":-4.28},{"t":5,"x":18,"y":-4.25},{"t":5,"x":18.5,"y":-4.5},{"t":5,"x":19.2,"y":-4.28},{"t":5,"x":22,"y":-4.13},{"t":5,"x":25,"y":-4.13},{"t":5,"x":28,"y":-4.13},{"t":5,"x":30,"y":-3.88},{"t":5,"x":33,"y":-2.79},{"t":5,"x":35,"y":-1.94},{"t":5,"x":37,"y":-1.32},{"t":5,"x":37.6,"y":-1.25},{"t":5,"x":38.1,"y":-0.5},{"t":5,"x":38.6,"y":0.4},{"t":5,"x":39.1,"y":2.0},{"t":5,"x":39.6,"y":3.7},{"t":5,"x":40.1,"y":4.4},{"t":5,"x":40.5,"y":3.4},{"t":5,"x":40.8,"y":1.5},{"t":5,"x":41.1,"y":0.6},{"t":5,"x":41.5,"y":0.6},
{"t":6,"x":0,"y":3.8},{"t":6,"x":1,"y":6.6},{"t":6,"x":1.8,"y":12.8},{"t":6,"x":2.5,"y":14.6},{"t":6,"x":3.2,"y":15.1},{"t":6,"x":4,"y":14.0},{"t":6,"x":4.8,"y":10.6},{"t":6,"x":5.5,"y":6.2},{"t":6,"x":6,"y":3.4},{"t":6,"x":6.4,"y":1.4},{"t":6,"x":6.7,"y":-0.3},{"t":6,"x":7,"y":-2.5},{"t":6,"x":7.4,"y":-3.5},{"t":6,"x":8,"y":-4.06},{"t":6,"x":10,"y":-4.47},{"t":6,"x":15,"y":-4.71},{"t":6,"x":18,"y":-4.68},{"t":6,"x":18.5,"y":-4.95},{"t":6,"x":19.2,"y":-4.71},{"t":6,"x":22,"y":-4.54},{"t":6,"x":25,"y":-4.54},{"t":6,"x":28,"y":-4.54},{"t":6,"x":30,"y":-4.06},{"t":6,"x":33,"y":-2.93},{"t":6,"x":35,"y":-2.03},{"t":6,"x":37,"y":-1.38},{"t":6,"x":37.6,"y":-1.3},{"t":6,"x":38.1,"y":-0.4},{"t":6,"x":38.6,"y":0.7},{"t":6,"x":39.1,"y":2.5},{"t":6,"x":39.6,"y":4.4},{"t":6,"x":40.1,"y":5.0},{"t":6,"x":40.5,"y":3.6},{"t":6,"x":40.8,"y":1.4},{"t":6,"x":41.1,"y":0.5},{"t":6,"x":41.5,"y":0.5},
{"t":7,"x":0,"y":4.1},{"t":7,"x":1,"y":6.8},{"t":7,"x":1.8,"y":13.0},{"t":7,"x":2.5,"y":14.9},{"t":7,"x":3.2,"y":15.4},{"t":7,"x":4,"y":15.1},{"t":7,"x":4.8,"y":12.6},{"t":7,"x":5.5,"y":8.2},{"t":7,"x":6,"y":5.0},{"t":7,"x":6.4,"y":2.4},{"t":7,"x":6.7,"y":0.2},{"t":7,"x":7,"y":-2.6},{"t":7,"x":7.4,"y":-3.8},{"t":7,"x":8,"y":-4.43},{"t":7,"x":10,"y":-4.88},{"t":7,"x":15,"y":-5.14},{"t":7,"x":18,"y":-5.1},{"t":7,"x":18.5,"y":-5.4},{"t":7,"x":19.2,"y":-5.14},{"t":7,"x":22,"y":-4.95},{"t":7,"x":25,"y":-4.95},{"t":7,"x":28,"y":-4.93},{"t":7,"x":30,"y":-4.25},{"t":7,"x":33,"y":-3.06},{"t":7,"x":35,"y":-2.13},{"t":7,"x":37,"y":-1.45},{"t":7,"x":37.6,"y":-1.35},{"t":7,"x":38.1,"y":-0.3},{"t":7,"x":38.6,"y":1.0},{"t":7,"x":39.1,"y":3.0},{"t":7,"x":39.6,"y":5.0},{"t":7,"x":40.1,"y":5.5},{"t":7,"x":40.5,"y":3.7},{"t":7,"x":40.8,"y":1.3},{"t":7,"x":41.1,"y":0.4},{"t":7,"x":41.5,"y":0.5},
{"t":8.5,"x":0,"y":4.3},{"t":8.5,"x":1,"y":7.0},{"t":8.5,"x":1.8,"y":13.2},{"t":8.5,"x":2.5,"y":15.2},{"t":8.5,"x":3.2,"y":15.7},{"t":8.5,"x":4,"y":15.6},{"t":8.5,"x":4.8,"y":14.0},{"t":8.5,"x":5.5,"y":10.2},{"t":8.5,"x":6,"y":6.8},{"t":8.5,"x":6.4,"y":3.5},{"t":8.5,"x":6.7,"y":0.6},{"t":8.5,"x":7,"y":-2.7},{"t":8.5,"x":7.4,"y":-4.0},{"t":8.5,"x":8,"y":-4.7},{"t":8.5,"x":10,"y":-5.18},{"t":8.5,"x":15,"y":-5.46},{"t":8.5,"x":18,"y":-5.42},{"t":8.5,"x":18.5,"y":-5.74},{"t":8.5,"x":19.2,"y":-5.46},{"t":8.5,"x":22,"y":-5.26},{"t":8.5,"x":25,"y":-5.26},{"t":8.5,"x":28,"y":-5.09},{"t":8.5,"x":30,"y":-4.39},{"t":8.5,"x":33,"y":-3.16},{"t":8.5,"x":35,"y":-2.2},{"t":8.5,"x":37,"y":-1.49},{"t":8.5,"x":37.6,"y":-1.4},{"t":8.5,"x":38.1,"y":-0.2},{"t":8.5,"x":38.6,"y":1.3},{"t":8.5,"x":39.1,"y":3.5},{"t":8.5,"x":39.6,"y":5.6},{"t":8.5,"x":40.1,"y":5.9},{"t":8.5,"x":40.5,"y":3.8},{"t":8.5,"x":40.8,"y":1.2},{"t":8.5,"x":41.1,"y":0.2},{"t":8.5,"x":41.5,"y":0.4},
{"t":10,"x":0,"y":4.5},{"t":10,"x":1,"y":7.2},{"t":10,"x":1.8,"y":13.4},{"t":10,"x":2.5,"y":15.5},{"t":10,"x":3.2,"y":16.0},{"t":10,"x":4,"y":16.0},{"t":10,"x":4.8,"y":15.0},{"t":10,"x":5.5,"y":12.0},{"t":10,"x":6,"y":8.6},{"t":10,"x":6.4,"y":4.6},{"t":10,"x":6.7,"y":1.0},{"t":10,"x":7,"y":-2.8},{"t":10,"x":7.4,"y":-4.2},{"t":10,"x":8,"y":-4.89},{"t":10,"x":10,"y":-5.38},{"t":10,"x":15,"y":-5.67},{"t":10,"x":18,"y":-5.63},{"t":10,"x":18.5,"y":-5.96},{"t":10,"x":19.2,"y":-5.67},{"t":10,"x":22,"y":-5.46},{"t":10,"x":25,"y":-5.46},{"t":10,"x":28,"y":-5.2},{"t":10,"x":30,"y":-4.48},{"t":10,"x":33,"y":-3.23},{"t":10,"x":35,"y":-2.24},{"t":10,"x":37,"y":-1.52},{"t":10,"x":37.6,"y":-1.45},{"t":10,"x":38.1,"y":-0.1},{"t":10,"x":38.6,"y":1.6},{"t":10,"x":39.1,"y":4.0},{"t":10,"x":39.6,"y":6.1},{"t":10,"x":40.1,"y":6.2},{"t":10,"x":40.5,"y":3.9},{"t":10,"x":40.8,"y":1.1},{"t":10,"x":41.1,"y":0},{"t":10,"x":41.5,"y":0.3},
{"t":14,"x":0,"y":4.8},{"t":14,"x":1,"y":7.5},{"t":14,"x":1.8,"y":13.7},{"t":14,"x":2.5,"y":15.9},{"t":14,"x":3.2,"y":16.4},{"t":14,"x":4,"y":16.6},{"t":14,"x":4.8,"y":16.0},{"t":14,"x":5.5,"y":14.2},{"t":14,"x":6,"y":11.0},{"t":14,"x":6.4,"y":6.0},{"t":14,"x":6.7,"y":1.6},{"t":14,"x":7,"y":-2.8},{"t":14,"x":7.4,"y":-4.4},{"t":14,"x":8,"y":-5.16},{"t":14,"x":10,"y":-5.69},{"t":14,"x":15,"y":-5.99},{"t":14,"x":18,"y":-5.95},{"t":14,"x":18.5,"y":-6.3},{"t":14,"x":19.2,"y":-5.99},{"t":14,"x":22,"y":-5.78},{"t":14,"x":25,"y":-5.64},{"t":14,"x":28,"y":-5.37},{"t":14,"x":30,"y":-4.63},{"t":14,"x":33,"y":-3.33},{"t":14,"x":35,"y":-2.31},{"t":14,"x":37,"y":-1.57},{"t":14,"x":37.6,"y":-1.5},{"t":14,"x":38.1,"y":0},{"t":14,"x":38.6,"y":2.0},{"t":14,"x":39.1,"y":4.6},{"t":14,"x":39.6,"y":6.7},{"t":14,"x":40.1,"y":6.6},{"t":14,"x":40.5,"y":3.9},{"t":14,"x":40.8,"y":0.9},{"t":14,"x":41.1,"y":-0.4},{"t":14,"x":41.5,"y":0.1},
{"t":16,"x":0,"y":5.1},{"t":16,"x":1,"y":7.8},{"t":16,"x":1.8,"y":14.0},{"t":16,"x":2.5,"y":16.2},{"t":16,"x":3.2,"y":16.8},{"t":16,"x":4,"y":17.0},{"t":16,"x":4.8,"y":16.6},{"t":16,"x":5.5,"y":15.2},{"t":16,"x":6,"y":12.4},{"t":16,"x":6.4,"y":7.0},{"t":16,"x":6.7,"y":2.1},{"t":16,"x":7,"y":-2.8},{"t":16,"x":7.4,"y":-4.6},{"t":16,"x":8,"y":-5.35},{"t":16,"x":10,"y":-5.89},{"t":16,"x":15,"y":-6.21},{"t":16,"x":18,"y":-6.16},{"t":16,"x":18.5,"y":-6.52},{"t":16,"x":19.2,"y":-6.21},{"t":16,"x":22,"y":-5.98},{"t":16,"x":25,"y":-5.76},{"t":16,"x":28,"y":-5.48},{"t":16,"x":30,"y":-4.72},{"t":16,"x":33,"y":-3.4},{"t":16,"x":35,"y":-2.36},{"t":16,"x":37,"y":-1.6},{"t":16,"x":37.6,"y":-1.55},{"t":16,"x":38.1,"y":0.1},{"t":16,"x":38.6,"y":2.4},{"t":16,"x":39.1,"y":5.1},{"t":16,"x":39.6,"y":7.0},{"t":16,"x":40.1,"y":6.8},{"t":16,"x":40.5,"y":3.9},{"t":16,"x":40.8,"y":0.7},{"t":16,"x":41.1,"y":-0.8},{"t":16,"x":41.5,"y":0},
{"t":18,"x":0,"y":5.3},{"t":18,"x":1,"y":8.0},{"t":18,"x":1.8,"y":14.2},{"t":18,"x":2.5,"y":16.5},{"t":18,"x":3.2,"y":17.1},{"t":18,"x":4,"y":17.4},{"t":18,"x":4.8,"y":17.0},{"t":18,"x":5.5,"y":15.7},{"t":18,"x":6,"y":13.0},{"t":18,"x":6.4,"y":7.6},{"t":18,"x":6.7,"y":2.4},{"t":18,"x":7,"y":-2.9},{"t":18,"x":7.4,"y":-4.7},{"t":18,"x":8,"y":-5.49},{"t":18,"x":10,"y":-6.05},{"t":18,"x":15,"y":-6.37},{"t":18,"x":18,"y":-6.32},{"t":18,"x":18.5,"y":-6.7},{"t":18,"x":19.2,"y":-6.37},{"t":18,"x":22,"y":-6.14},{"t":18,"x":25,"y":-5.84},{"t":18,"x":28,"y":-5.56},{"t":18,"x":30,"y":-4.79},{"t":18,"x":33,"y":-3.45},{"t":18,"x":35,"y":-2.4},{"t":18,"x":37,"y":-1.63},{"t":18,"x":37.6,"y":-1.6},{"t":18,"x":38.1,"y":0.2},{"t":18,"x":38.6,"y":2.7},{"t":18,"x":39.1,"y":5.4},{"t":18,"x":39.6,"y":7.2},{"t":18,"x":40.1,"y":6.9},{"t":18,"x":40.5,"y":3.8},{"t":18,"x":40.8,"y":0.5},{"t":18,"x":41.1,"y":-1.1},{"t":18,"x":41.5,"y":-0.1},
{"t":20,"x":0,"y":5.5},{"t":20,"x":1,"y":8.2},{"t":20,"x":1.8,"y":14.4},{"t":20,"x":2.5,"y":16.7},{"t":20,"x":3.2,"y":17.4},{"t":20,"x":4,"y":17.7},{"t":20,"x":4.8,"y":17.3},{"t":20,"x":5.5,"y":16.0},{"t":20,"x":6,"y":13.4},{"t":20,"x":6.4,"y":8.0},{"t":20,"x":6.7,"y":2.6},{"t":20,"x":7,"y":-2.9},{"t":20,"x":7.4,"y":-4.8},{"t":20,"x":8,"y":-5.58},{"t":20,"x":10,"y":-6.14},{"t":20,"x":15,"y":-6.47},{"t":20,"x":18,"y":-6.43},{"t":20,"x":18.5,"y":-6.8},{"t":20,"x":19.2,"y":-6.47},{"t":20,"x":22,"y":-6.24},{"t":20,"x":25,"y":-5.9},{"t":20,"x":28,"y":-5.61},{"t":20,"x":30,"y":-4.84},{"t":20,"x":33,"y":-3.48},{"t":20,"x":35,"y":-2.42},{"t":20,"x":37,"y":-1.64},{"t":20,"x":37.6,"y":-1.6},{"t":20,"x":38.1,"y":0.2},{"t":20,"x":38.6,"y":2.9},{"t":20,"x":39.1,"y":5.6},{"t":20,"x":39.6,"y":7.3},{"t":20,"x":40.1,"y":6.9},{"t":20,"x":40.5,"y":3.7},{"t":20,"x":40.8,"y":0.4},{"t":20,"x":41.1,"y":-1.4},{"t":20,"x":41.5,"y":-0.2},
{"t":22,"x":0,"y":5.7},{"t":22,"x":1,"y":8.4},{"t":22,"x":1.8,"y":14.5},{"t":22,"x":2.5,"y":16.9},{"t":22,"x":3.2,"y":17.6},{"t":22,"x":4,"y":17.95},{"t":22,"x":4.8,"y":17.6},{"t":22,"x":5.5,"y":16.3},{"t":22,"x":6,"y":13.7},{"t":22,"x":6.4,"y":8.2},{"t":22,"x":6.7,"y":2.8},{"t":22,"x":7,"y":-2.9},{"t":22,"x":7.4,"y":-4.9},{"t":22,"x":8,"y":-5.62},{"t":22,"x":10,"y":-6.19},{"t":22,"x":15,"y":-6.53},{"t":22,"x":18,"y":-6.48},{"t":22,"x":18.5,"y":-6.86},{"t":22,"x":19.2,"y":-6.53},{"t":22,"x":22,"y":-6.29},{"t":22,"x":25,"y":-5.93},{"t":22,"x":28,"y":-5.64},{"t":22,"x":30,"y":-4.86},{"t":22,"x":33,"y":-3.5},{"t":22,"x":35,"y":-2.43},{"t":22,"x":37,"y":-1.65},{"t":22,"x":37.6,"y":-1.65},{"t":22,"x":38.1,"y":0.2},{"t":22,"x":38.6,"y":3.0},{"t":22,"x":39.1,"y":5.75},{"t":22,"x":39.6,"y":7.35},{"t":22,"x":40.1,"y":6.9},{"t":22,"x":40.5,"y":3.6},{"t":22,"x":40.8,"y":0.3},{"t":22,"x":41.1,"y":-1.6},{"t":22,"x":41.5,"y":-0.3},
{"t":24,"x":0,"y":5.9},{"t":24,"x":1,"y":8.5},{"t":24,"x":1.8,"y":14.6},{"t":24,"x":2.5,"y":17.0},{"t":24,"x":3.2,"y":17.8},{"t":24,"x":4,"y":18.15},{"t":24,"x":4.8,"y":17.8},{"t":24,"x":5.5,"y":16.5},{"t":24,"x":6,"y":14.0},{"t":24,"x":6.4,"y":8.4},{"t":24,"x":6.7,"y":2.9},{"t":24,"x":7,"y":-2.9},{"t":24,"x":7.4,"y":-4.9},{"t":24,"x":8,"y":-5.67},{"t":24,"x":10,"y":-6.25},{"t":24,"x":15,"y":-6.58},{"t":24,"x":18,"y":-6.53},{"t":24,"x":18.5,"y":-6.92},{"t":24,"x":19.2,"y":-6.58},{"t":24,"x":22,"y":-6.34},{"t":24,"x":25,"y":-5.96},{"t":24,"x":28,"y":-5.67},{"t":24,"x":30,"y":-4.89},{"t":24,"x":33,"y":-3.52},{"t":24,"x":35,"y":-2.44},{"t":24,"x":37,"y":-1.66},{"t":24,"x":37.6,"y":-1.65},{"t":24,"x":38.1,"y":0.15},{"t":24,"x":38.6,"y":3.1},{"t":24,"x":39.1,"y":5.8},{"t":24,"x":39.6,"y":7.4},{"t":24,"x":40.1,"y":6.9},{"t":24,"x":40.5,"y":3.5},{"t":24,"x":40.8,"y":0.2},{"t":24,"x":41.1,"y":-1.8},{"t":24,"x":41.5,"y":-0.4},
{"t":26,"x":0,"y":6.0},{"t":26,"x":1,"y":8.6},{"t":26,"x":1.8,"y":14.7},{"t":26,"x":2.5,"y":17.1},{"t":26,"x":3.2,"y":17.95},{"t":26,"x":4,"y":18.3},{"t":26,"x":4.8,"y":17.95},{"t":26,"x":5.5,"y":16.7},{"t":26,"x":6,"y":14.2},{"t":26,"x":6.4,"y":8.5},{"t":26,"x":6.7,"y":3.0},{"t":26,"x":7,"y":-2.9},{"t":26,"x":7.4,"y":-5.0},{"t":26,"x":8,"y":-5.72},{"t":26,"x":10,"y":-6.3},{"t":26,"x":15,"y":-6.64},{"t":26,"x":18,"y":-6.59},{"t":26,"x":18.5,"y":-6.98},{"t":26,"x":19.2,"y":-6.64},{"t":26,"x":22,"y":-6.4},{"t":26,"x":25,"y":-5.98},{"t":26,"x":28,"y":-5.69},{"t":26,"x":30,"y":-4.91},{"t":26,"x":33,"y":-3.53},{"t":26,"x":35,"y":-2.45},{"t":26,"x":37,"y":-1.67},{"t":26,"x":37.6,"y":-1.7},{"t":26,"x":38.1,"y":0.1},{"t":26,"x":38.6,"y":3.1},{"t":26,"x":39.1,"y":5.85},{"t":26,"x":39.6,"y":7.45},{"t":26,"x":40.1,"y":6.85},{"t":26,"x":40.5,"y":3.4},{"t":26,"x":40.8,"y":0.1},{"t":26,"x":41.1,"y":-2.0},{"t":26,"x":41.5,"y":-0.5},
{"t":28,"x":0,"y":6.15},{"t":28,"x":1,"y":8.7},{"t":28,"x":1.8,"y":14.8},{"t":28,"x":2.5,"y":17.2},{"t":28,"x":3.2,"y":18.1},{"t":28,"x":4,"y":18.45},{"t":28,"x":4.8,"y":18.1},{"t":28,"x":5.5,"y":16.8},{"t":28,"x":6,"y":14.3},{"t":28,"x":6.4,"y":8.6},{"t":28,"x":6.7,"y":3.0},{"t":28,"x":7,"y":-2.9},{"t":28,"x":7.4,"y":-5.0},{"t":28,"x":8,"y":-5.76},{"t":28,"x":10,"y":-6.35},{"t":28,"x":15,"y":-6.69},{"t":28,"x":18,"y":-6.64},{"t":28,"x":18.5,"y":-7.03},{"t":28,"x":19.2,"y":-6.69},{"t":28,"x":22,"y":-6.45},{"t":28,"x":25,"y":-6.01},{"t":28,"x":28,"y":-5.72},{"t":28,"x":30,"y":-4.93},{"t":28,"x":33,"y":-3.55},{"t":28,"x":35,"y":-2.47},{"t":28,"x":37,"y":-1.68},{"t":28,"x":37.6,"y":-1.7},{"t":28,"x":38.1,"y":0},{"t":28,"x":38.6,"y":3.1},{"t":28,"x":39.1,"y":5.85},{"t":28,"x":39.6,"y":7.5},{"t":28,"x":40.1,"y":6.8},{"t":28,"x":40.5,"y":3.3},{"t":28,"x":40.8,"y":0},{"t":28,"x":41.1,"y":-2.2},{"t":28,"x":41.5,"y":-0.6},
{"t":30,"x":0,"y":6.3},{"t":30,"x":1,"y":8.8},{"t":30,"x":1.8,"y":14.85},{"t":30,"x":2.5,"y":17.3},{"t":30,"x":3.2,"y":18.2},{"t":30,"x":4,"y":18.6},{"t":30,"x":4.8,"y":18.2},{"t":30,"x":5.5,"y":16.9},{"t":30,"x":6,"y":14.4},{"t":30,"x":6.4,"y":8.6},{"t":30,"x":6.7,"y":3.1},{"t":30,"x":7,"y":-2.9},{"t":30,"x":7.4,"y":-5.1},{"t":30,"x":8,"y":-5.81},{"t":30,"x":10,"y":-6.4},{"t":30,"x":15,"y":-6.74},{"t":30,"x":18,"y":-6.69},{"t":30,"x":18.5,"y":-7.08},{"t":30,"x":19.2,"y":-6.74},{"t":30,"x":22,"y":-6.49},{"t":30,"x":25,"y":-6.04},{"t":30,"x":28,"y":-5.74},{"t":30,"x":30,"y":-4.95},{"t":30,"x":33,"y":-3.56},{"t":30,"x":35,"y":-2.48},{"t":30,"x":37,"y":-1.68},{"t":30,"x":37.6,"y":-1.7},{"t":30,"x":38.1,"y":-0.1},{"t":30,"x":38.6,"y":3.05},{"t":30,"x":39.1,"y":5.8},{"t":30,"x":39.6,"y":7.5},{"t":30,"x":40.1,"y":6.75},{"t":30,"x":40.5,"y":3.2},{"t":30,"x":40.8,"y":-0.1},{"t":30,"x":41.1,"y":-2.3},{"t":30,"x":41.5,"y":-0.7},
{"t":32,"x":0,"y":6.45},{"t":32,"x":1,"y":8.85},{"t":32,"x":1.8,"y":14.9},{"t":32,"x":2.5,"y":17.4},{"t":32,"x":3.2,"y":18.3},{"t":32,"x":4,"y":18.7},{"t":32,"x":4.8,"y":18.3},{"t":32,"x":5.5,"y":17.0},{"t":32,"x":6,"y":14.5},{"t":32,"x":6.4,"y":8.7},{"t":32,"x":6.7,"y":3.1},{"t":32,"x":7,"y":-2.8},{"t":32,"x":7.4,"y":-5.1},{"t":32,"x":8,"y":-5.84},{"t":32,"x":10,"y":-6.43},{"t":32,"x":15,"y":-6.77},{"t":32,"x":18,"y":-6.73},{"t":32,"x":18.5,"y":-7.12},{"t":32,"x":19.2,"y":-6.77},{"t":32,"x":22,"y":-6.53},{"t":32,"x":25,"y":-6.06},{"t":32,"x":28,"y":-5.76},{"t":32,"x":30,"y":-4.97},{"t":32,"x":33,"y":-3.57},{"t":32,"x":35,"y":-2.48},{"t":32,"x":37,"y":-1.69},{"t":32,"x":37.6,"y":-1.7},{"t":32,"x":38.1,"y":-0.2},{"t":32,"x":38.6,"y":3.0},{"t":32,"x":39.1,"y":5.8},{"t":32,"x":39.6,"y":7.5},{"t":32,"x":40.1,"y":6.7},{"t":32,"x":40.5,"y":3.1},{"t":32,"x":40.8,"y":-0.2},{"t":32,"x":41.1,"y":-2.4},{"t":32,"x":41.5,"y":-0.8},
{"t":34,"x":0,"y":6.6},{"t":34,"x":1,"y":8.9},{"t":34,"x":1.8,"y":14.95},{"t":34,"x":2.5,"y":17.45},{"t":34,"x":3.2,"y":18.35},{"t":34,"x":4,"y":18.8},{"t":34,"x":4.8,"y":18.4},{"t":34,"x":5.5,"y":17.05},{"t":34,"x":6,"y":14.6},{"t":34,"x":6.4,"y":8.7},{"t":34,"x":6.7,"y":3.2},{"t":34,"x":7,"y":-2.8},{"t":34,"x":7.4,"y":-5.2},{"t":34,"x":8,"y":-5.87},{"t":34,"x":10,"y":-6.47},{"t":34,"x":15,"y":-6.82},{"t":34,"x":18,"y":-6.77},{"t":34,"x":18.5,"y":-7.16},{"t":34,"x":19.2,"y":-6.82},{"t":34,"x":22,"y":-6.57},{"t":34,"x":25,"y":-6.08},{"t":34,"x":28,"y":-5.78},{"t":34,"x":30,"y":-4.99},{"t":34,"x":33,"y":-3.59},{"t":34,"x":35,"y":-2.49},{"t":34,"x":37,"y":-1.69},{"t":34,"x":37.6,"y":-1.7},{"t":34,"x":38.1,"y":-0.3},{"t":34,"x":38.6,"y":2.9},{"t":34,"x":39.1,"y":5.75},{"t":34,"x":39.6,"y":7.5},{"t":34,"x":40.1,"y":6.65},{"t":34,"x":40.5,"y":3.05},{"t":34,"x":40.8,"y":-0.3},{"t":34,"x":41.1,"y":-2.5},{"t":34,"x":41.5,"y":-0.85},
{"t":36.5,"x":0,"y":6.8},{"t":36.5,"x":1,"y":9.0},{"t":36.5,"x":1.8,"y":15.0},{"t":36.5,"x":2.5,"y":17.5},{"t":36.5,"x":3.2,"y":18.4},{"t":36.5,"x":4,"y":18.9},{"t":36.5,"x":4.8,"y":18.5},{"t":36.5,"x":5.5,"y":17.1},{"t":36.5,"x":6,"y":14.7},{"t":36.5,"x":6.4,"y":8.7},{"t":36.5,"x":6.7,"y":3.2},{"t":36.5,"x":7,"y":-2.8},{"t":36.5,"x":7.4,"y":-5.2},{"t":36.5,"x":8,"y":-5.9},{"t":36.5,"x":10,"y":-6.5},{"t":36.5,"x":15,"y":-6.85},{"t":36.5,"x":18,"y":-6.8},{"t":36.5,"x":18.5,"y":-7.2},{"t":36.5,"x":19.2,"y":-6.85},{"t":36.5,"x":22,"y":-6.6},{"t":36.5,"x":25,"y":-6.1},{"t":36.5,"x":28,"y":-5.8},{"t":36.5,"x":30,"y":-5.0},{"t":36.5,"x":33,"y":-3.6},{"t":36.5,"x":35,"y":-2.5},{"t":36.5,"x":37,"y":-1.7},{"t":36.5,"x":37.6,"y":-1.7},{"t":36.5,"x":38.1,"y":-0.4},{"t":36.5,"x":38.6,"y":2.8},{"t":36.5,"x":39.1,"y":5.7},{"t":36.5,"x":39.6,"y":7.6},{"t":36.5,"x":40.1,"y":6.6},{"t":36.5,"x":40.5,"y":3.0},{"t":36.5,"x":40.8,"y":-0.4},{"t":36.5,"x":41.1,"y":-2.6},{"t":36.5,"x":41.5,"y":-0.9}
]
},
"vconcat": [
{
"width": 1044, "height": 293,
"data": {"name": "T"},
"mark": {"type": "line", "strokeWidth": 1.6, "interpolate": "monotone", "clip": true},
"encoding": {
"x": {"field": "x", "type": "quantitative", "scale": {"domain": [-1.05, 42.73], "nice": false, "zero": false},
"axis": {"orient": "top", "title": null, "values": [-1,0,1,2,3,4,5,6,7,8,9,10,11,12,13,14,15,16,17,18,19,20,21,22,23,24,25,26,27,28,29,30,31,32,33,34,35,36,37,38,39,40,41,42], "labels": false, "tickSize": 6, "gridColor": "#dcdcdc"}},
"y": {"field": "y", "type": "quantitative", "scale": {"domain": [-0.17, 6.15], "nice": false, "zero": false},
"axis": {"title": "ΔT (%)", "titleFont": "DejaVu Sans", "titleFontSize": 16, "titleFontWeight": "bold", "titleColor": "#333333", "titleX": -38, "titleY": 146, "titleBaseline": "middle", "titleAngle": -90,
"values": [0,0.5,1,1.5,2,2.5,3,3.5,4,4.5,5,5.5,6], "format": "~g", "labelExpr": "datum.value % 2 === 0 ? datum.label : ''", "labelFontSize": 12, "labelPadding": 3,
"tickSize": {"condition": {"test": "datum.value % 2 === 0", "value": 9}, "value": 5},
"gridColor": {"condition": {"test": "datum.value % 2 === 0", "value": "#a0a0a0"}, "value": "#dadada"},
"gridOpacity": {"condition": {"test": "datum.value % 1 !== 0", "value": 0}, "value": 1}}},
"color": {"field": "t", "type": "quantitative",
"scale": {"domain": [36.5, 27.4, 18.5, 9.3, 0], "range": ["#ff0000", "#ffff00", "#00ff00", "#00ffff", "#0000ff"]},
"legend": {"orient": "none", "legendX": 1157, "legendY": 22, "direction": "vertical", "title": null, "gradientLength": 532, "gradientThickness": 27, "gradientStrokeWidth": 0,
"values": [0,3,5.5,8.5,11,14,17,19.5,22.5,25.5,28,31,33.5,36.5],
"labelExpr": "'00h:' + (floor(datum.value) < 10 ? '0' : '') + floor(datum.value) + 'm:' + (datum.value % 1 > 0 ? '30' : '00') + 's'",
"labelOffset": -132, "labelFont": "DejaVu Sans", "labelFontSize": 13, "labelColor": "#707070", "labelOverlap": false}}
}
},
{
"width": 1044, "height": 281,
"data": {"name": "B"},
"mark": {"type": "line", "strokeWidth": 1.4, "interpolate": "monotone", "clip": true},
"encoding": {
"x": {"field": "x", "type": "quantitative", "scale": {"domain": [-1.05, 42.73], "nice": false, "zero": false},
"axis": {"orient": "bottom", "title": "Altura (mm)", "titleFont": "DejaVu Sans", "titleFontSize": 15, "titleFontWeight": "bold", "titleColor": "#222222", "titleX": 542, "titleY": 43, "titleBaseline": "middle",
"values": [-1,0,1,2,3,4,5,6,7,8,9,10,11,12,13,14,15,16,17,18,19,20,21,22,23,24,25,26,27,28,29,30,31,32,33,34,35,36,37,38,39,40,41,42],
"labelExpr": "datum.value % 5 === 0 ? datum.label : ''", "labelFontSize": 12, "labelPadding": 4,
"tickSize": {"condition": {"test": "datum.value % 5 === 0", "value": 9}, "value": 6}, "gridColor": "#dcdcdc"}},
"y": {"field": "y", "type": "quantitative", "scale": {"domain": [-8.04, 19.86], "nice": false, "zero": false},
"axis": {"title": "ΔBS(%)", "titleFont": "DejaVu Sans", "titleFontSize": 16, "titleFontWeight": "bold", "titleColor": "#333333", "titleX": -38, "titleY": 140, "titleBaseline": "middle", "titleAngle": -90,
"values": [-5,0,5,10,15], "labelFontSize": 12, "labelPadding": 3, "tickSize": 9, "gridColor": "#cfcfcf"}},
"color": {"field": "t", "type": "quantitative",
"scale": {"domain": [36.5, 27.4, 18.5, 9.3, 0], "range": ["#ff0000", "#ffff00", "#00ff00", "#00ffff", "#0000ff"]},
"legend": {"orient": "none", "legendX": 1157, "legendY": 22, "direction": "vertical", "title": null, "gradientLength": 532, "gradientThickness": 27, "gradientStrokeWidth": 0,
"values": [0,3,5.5,8.5,11,14,17,19.5,22.5,25.5,28,31,33.5,36.5],
"labelExpr": "'00h:' + (floor(datum.value) < 10 ? '0' : '') + floor(datum.value) + 'm:' + (datum.value % 1 > 0 ? '30' : '00') + 's'",
"labelOffset": -132, "labelFont": "DejaVu Sans", "labelFontSize": 13, "labelColor": "#707070", "labelOverlap": false}}
}
}
]
}
